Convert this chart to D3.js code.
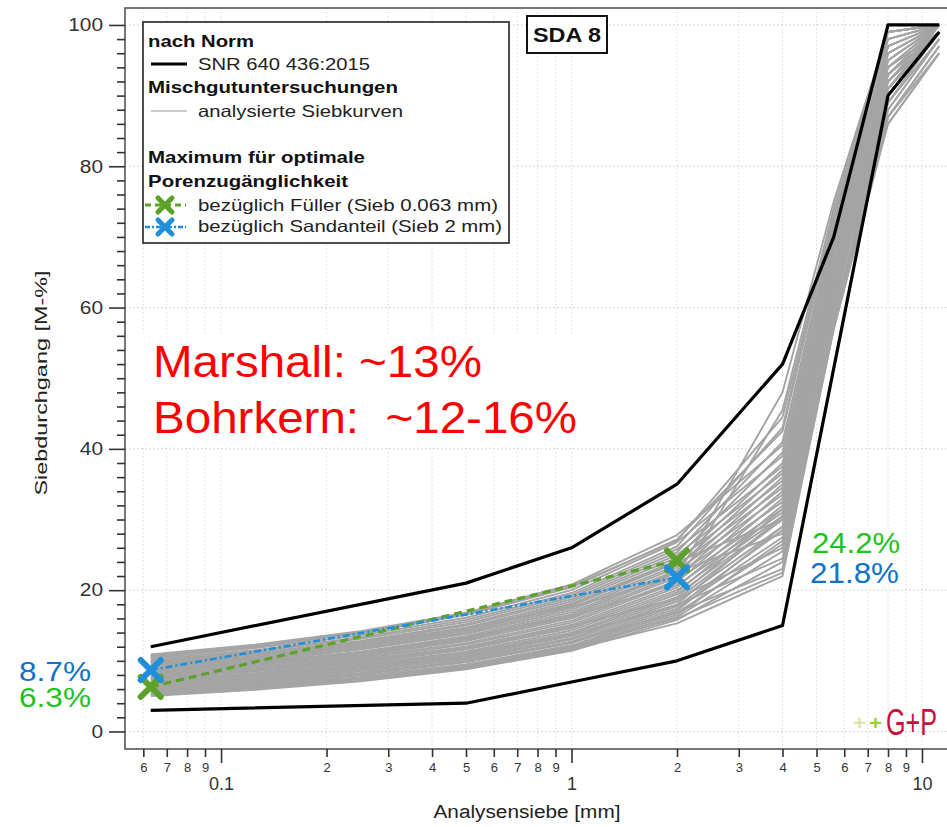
<!DOCTYPE html>
<html><head><meta charset="utf-8">
<script src="https://cdn.jsdelivr.net/npm/d3@7"></script>
<style>
body{margin:0;background:#fff}
text{font-family:"Liberation Sans",Arial,Helvetica,sans-serif}
</style>
</head><body>
<svg id="c" width="947" height="827"></svg>
<script>
// ---------------- DATA ----------------
const sieves = [0.063, 0.125, 0.25, 0.5, 1, 2, 4, 5.6, 8, 11.2];

// analysed grading curves (Siebdurchgang in M-% at each sieve)
const curves = [
  [10.9, 12.3, 14.2, 16.8, 20.8, 27.8, 40.5, 72, 99, 100],
  [10.6, 12.0, 13.9, 16.5, 20.4, 27.2, 42.5, 73, 98, 100],
  [10.4, 11.8, 13.6, 16.1, 20.0, 26.8, 39.0, 71, 97, 100],
  [10.2, 11.5, 13.3, 15.8, 19.6, 26.2, 43.0, 74, 99, 100],
  [10.0, 11.3, 13.1, 15.5, 19.3, 25.8, 37.5, 70, 96, 100],
  [9.8, 11.1, 12.8, 15.2, 19.0, 25.4, 41.0, 72, 98, 100],
  [9.6, 10.9, 12.6, 15.0, 18.7, 25.0, 36.5, 69, 96, 100],
  [9.5, 10.7, 12.4, 14.7, 18.4, 24.6, 39.5, 71, 97, 100],
  [9.3, 10.5, 12.2, 14.5, 18.1, 24.2, 35.5, 68, 95, 100],
  [9.1, 10.3, 12.0, 14.2, 17.8, 23.9, 38.0, 70, 97, 100],
  [9.0, 10.1, 11.8, 14.0, 17.5, 23.5, 34.5, 67, 95, 100],
  [8.8, 9.9, 11.6, 13.8, 17.2, 23.2, 37.0, 69, 96, 100],
  [8.6, 9.7, 11.3, 13.5, 16.9, 22.8, 33.5, 66, 94, 99],
  [8.5, 9.6, 11.1, 13.3, 16.6, 22.5, 36.0, 68, 96, 100],
  [8.3, 9.4, 10.9, 13.0, 16.3, 22.1, 32.5, 65, 93, 99],
  [8.1, 9.2, 10.7, 12.8, 16.0, 21.8, 35.0, 67, 95, 100],
  [8.0, 9.0, 10.5, 12.5, 15.7, 21.4, 31.5, 64, 93, 99],
  [7.8, 8.8, 10.3, 12.3, 15.4, 21.1, 34.0, 66, 94, 100],
  [7.6, 8.6, 10.1, 12.0, 15.1, 20.7, 31.0, 64, 92, 99],
  [7.5, 8.5, 9.9, 11.8, 14.8, 20.4, 33.0, 65, 94, 100],
  [7.3, 8.3, 9.7, 11.6, 14.6, 20.0, 30.5, 63, 92, 99],
  [7.1, 8.1, 9.5, 11.3, 14.3, 19.7, 32.0, 65, 93, 100],
  [7.0, 7.9, 9.3, 11.1, 14.0, 19.4, 30.0, 62, 91, 99],
  [6.8, 7.8, 9.1, 10.9, 13.8, 19.0, 31.5, 64, 93, 100],
  [6.6, 7.6, 8.9, 10.6, 13.5, 18.7, 30.0, 62, 91, 99],
  [6.5, 7.4, 8.7, 10.4, 13.2, 18.4, 29.0, 63, 92, 100],
  [6.3, 7.2, 8.5, 10.2, 13.0, 18.0, 30.5, 61, 90, 99],
  [6.1, 7.0, 8.3, 10.0, 12.7, 17.7, 28.5, 62, 91, 100],
  [6.0, 6.9, 8.1, 9.8, 12.5, 17.4, 27.5, 60, 90, 99],
  [5.8, 6.7, 7.9, 9.5, 12.2, 17.1, 29.0, 61, 89, 98],
  [5.6, 6.5, 7.7, 9.3, 12.0, 16.8, 26.5, 60, 90, 99],
  [5.4, 6.3, 7.5, 9.1, 11.8, 16.5, 27.0, 59, 88, 98],
  [5.2, 6.1, 7.3, 8.9, 11.6, 16.2, 25.5, 58, 89, 99],
  [5.0, 5.9, 7.1, 8.8, 11.4, 15.8, 24.0, 57, 87, 97],
  [9.9, 11.0, 12.5, 14.6, 17.6, 22.0, 48.0, 75, 99, 100],
  [8.7, 9.8, 11.2, 13.2, 16.2, 21.0, 45.5, 74, 99, 100],
  [7.7, 8.7, 10.0, 11.9, 14.9, 18.8, 26.0, 59, 88, 98],
  [6.9, 7.8, 9.0, 10.7, 13.6, 17.9, 24.5, 58, 87, 97],
  [6.2, 7.1, 8.2, 9.9, 12.6, 16.9, 23.0, 57, 86, 96],
  [5.7, 6.5, 7.6, 9.2, 11.9, 16.0, 22.5, 58, 90, 100],
  [5.3, 6.2, 7.3, 8.9, 11.6, 15.3, 22.0, 57, 87, 96],
  [9.2, 10.4, 12.0, 14.3, 17.9, 24.0, 30.0, 62, 86, 96],
  [8.4, 9.5, 11.0, 13.1, 16.5, 22.6, 28.0, 60, 91, 99],
  [10.7, 12.1, 14.0, 16.6, 20.6, 27.0, 44.5, 73, 98, 100]
];

// SNR 640 436:2015 limits
const normUpperSieves = [0.063, 0.5, 1, 2, 4, 5.6, 8, 11.2];
const normUpperValues = [12, 21, 26, 35, 52, 70, 100, 100];
const normLowerSieves = [0.063, 0.5, 1, 2, 4, 8, 11.2];
const normLowerValues = [3, 4, 7, 10, 15, 90, 99];

// maxima for optimal pore accessibility
const maxSieves = [0.063, 2];
const fullerValues = [6.3, 24.2];     // bezüglich Füller
const sandValues = [8.7, 21.8];       // bezüglich Sandanteil

const yMajorTicks = [0, 20, 40, 60, 80, 100];
const xMajorTicks = [0.1, 1, 10];
const xMinorTicks = [0.06, 0.07, 0.08, 0.09, 0.2, 0.3, 0.4, 0.5, 0.6, 0.7, 0.8, 0.9,
                     2, 3, 4, 5, 6, 7, 8, 9];

// ---------------- CHART ----------------
const svg = d3.select("#c");
const L = 125, R = 950, T = 8, B = 749;
const x = d3.scaleLog().domain([0.0532, 12.02]).range([L, R]);
const y = d3.scaleLinear().domain([-2.48, 102.4]).range([B, T]);

const GREEN = "#5ca22a", BLUE = "#1f8fda";

function label(parent, str, px, py, size, width, o = {}) {
  const t = parent.append("text").attr("x", px).attr("y", py)
    .attr("font-size", size).text(str);
  if (width) t.attr("textLength", width).attr("lengthAdjust", "spacingAndGlyphs");
  if (o.weight) t.attr("font-weight", o.weight);
  t.attr("fill", o.fill || "#111");
  if (o.anchor) t.attr("text-anchor", o.anchor);
  if (o.pre) t.style("white-space", "pre");
  return t;
}
function cross(parent, cx, cy, r, color, w) {
  parent.append("path")
    .attr("d", `M${cx - r},${cy - r}L${cx + r},${cy + r}M${cx - r},${cy + r}L${cx + r},${cy - r}`)
    .attr("stroke", color).attr("stroke-width", w).attr("stroke-linecap", "round")
    .attr("fill", "none");
}

svg.append("rect").attr("width", 947).attr("height", 827).attr("fill", "#fff");

// grid
const grid = svg.append("g");
grid.selectAll(".gx").data(xMajorTicks.concat(xMinorTicks)).join("line")
  .attr("x1", d => x(d)).attr("x2", d => x(d)).attr("y1", T).attr("y2", B)
  .attr("stroke", "#dcdcdc").attr("stroke-width", 1).attr("stroke-dasharray", "1.5,2.5");
grid.selectAll(".gy").data(yMajorTicks).join("line")
  .attr("x1", L).attr("x2", R).attr("y1", d => y(d)).attr("y2", d => y(d))
  .attr("stroke", "#c8c8c8").attr("stroke-width", 1).attr("stroke-dasharray", "1.5,2.5");

// white boxes behind annotation text
svg.append("rect").attr("x", 128).attr("y", 333).attr("width", 472).attr("height", 112).attr("fill", "#fff");
svg.append("rect").attr("x", 806).attr("y", 526).attr("width", 98).attr("height", 61).attr("fill", "#fff");

// curves
const line = d3.line().x(d => x(d[0])).y(d => y(d[1]));
svg.append("g").selectAll("path").data(curves).join("path")
  .attr("d", c => line(c.map((v, i) => [sieves[i], v])))
  .attr("fill", "none").attr("stroke", "#a4a4a4").attr("stroke-width", 1.9)
  .attr("stroke-linejoin", "round");

// norm limits
const upper = normUpperSieves.map((s, i) => [s, normUpperValues[i]]);
const lower = normLowerSieves.map((s, i) => [s, normLowerValues[i]]);
[upper, lower].forEach(p => svg.append("path").attr("d", line(p))
  .attr("fill", "none").attr("stroke", "#000").attr("stroke-width", 3.2)
  .attr("stroke-linejoin", "round"));

// maxima lines
const fuller = maxSieves.map((s, i) => [s, fullerValues[i]]);
const sand = maxSieves.map((s, i) => [s, sandValues[i]]);
svg.append("path").attr("d", line(fuller)).attr("fill", "none")
  .attr("stroke", GREEN).attr("stroke-width", 3.2).attr("stroke-dasharray", "8,5");
svg.append("path").attr("d", line(sand)).attr("fill", "none")
  .attr("stroke", BLUE).attr("stroke-width", 2.6).attr("stroke-dasharray", "7,3,2,3");
fuller.forEach(d => cross(svg, x(d[0]), y(d[1]), 10, GREEN, 6));
sand.forEach(d => cross(svg, x(d[0]), y(d[1]), 10, BLUE, 6));

// frame
svg.append("rect").attr("x", L).attr("y", T).attr("width", R - L).attr("height", B - T)
  .attr("fill", "none").attr("stroke", "#555").attr("stroke-width", 1.6);

// y axis
const yAxMinor = d3.axisLeft(y).tickValues(d3.range(0, 101, 2).filter(v => v % 20 !== 0))
  .tickSize(8).tickFormat("").tickSizeOuter(0);
const yAxMajor = d3.axisLeft(y).tickValues(yMajorTicks).tickSize(16).tickPadding(6).tickSizeOuter(0);
const gyMin = svg.append("g").attr("transform", `translate(${L},0)`).call(yAxMinor);
const gyMaj = svg.append("g").attr("transform", `translate(${L},0)`).call(yAxMajor);
[gyMin, gyMaj].forEach(g => {
  g.select(".domain").remove();
  g.selectAll("line").attr("stroke", "#333").attr("stroke-width", 1.6);
});
gyMaj.selectAll("text").attr("font-size", 18).attr("fill", "#333")
  .attr("font-family", "Liberation Sans, Arial, sans-serif")
  .attr("textLength", d => String(d).length * 11.6).attr("lengthAdjust", "spacingAndGlyphs");

// x axis
const fmtMinor = d => String(Math.round(d / Math.pow(10, Math.floor(Math.log10(d) + 1e-9))));
const xAxMinor = d3.axisBottom(x).tickValues(xMinorTicks).tickSize(8).tickPadding(6)
  .tickFormat(fmtMinor).tickSizeOuter(0);
const xAxMajor = d3.axisBottom(x).tickValues(xMajorTicks).tickSize(14).tickPadding(14)
  .tickFormat(d => String(d)).tickSizeOuter(0);
const gxMin = svg.append("g").attr("transform", `translate(0,${B})`).call(xAxMinor);
const gxMaj = svg.append("g").attr("transform", `translate(0,${B})`).call(xAxMajor);
[gxMin, gxMaj].forEach(g => {
  g.select(".domain").remove();
  g.selectAll("line").attr("stroke", "#333").attr("stroke-width", 1.6);
  g.selectAll("text").attr("fill", "#333").attr("font-family", "Liberation Sans, Arial, sans-serif");
});
gxMin.selectAll("text").attr("font-size", 13);
gxMaj.selectAll("text").attr("font-size", 18);

// axis titles
label(svg, "Analysensiebe [mm]", 527, 818, 18, 187, { anchor: "middle", fill: "#222" });
label(svg, "Siebdurchgang [M-%]", 0, 0, 17, 225, { anchor: "middle", fill: "#222" })
  .attr("transform", "translate(47,383) rotate(-90)");

// legend
const lg = svg.append("g");
lg.append("rect").attr("x", 143).attr("y", 22).attr("width", 366).attr("height", 221)
  .attr("fill", "#fff").attr("stroke", "#222").attr("stroke-width", 1.6);
label(lg, "nach Norm", 148, 47, 16.5, 106, { weight: "bold" });
lg.append("line").attr("x1", 151).attr("x2", 187).attr("y1", 64).attr("y2", 64)
  .attr("stroke", "#000").attr("stroke-width", 3);
label(lg, "SNR 640 436:2015", 198, 69.5, 16.5, 172, { fill: "#222" });
label(lg, "Mischgutuntersuchungen", 148, 93, 16.5, 250, { weight: "bold" });
lg.append("line").attr("x1", 151).attr("x2", 187).attr("y1", 111).attr("y2", 111)
  .attr("stroke", "#b8b8b8").attr("stroke-width", 1.6);
label(lg, "analysierte Siebkurven", 198, 117, 16.5, 205, { fill: "#222" });
label(lg, "Maximum für optimale", 148, 163, 16.5, 217, { weight: "bold" });
label(lg, "Porenzugänglichkeit", 148, 187, 16.5, 200, { weight: "bold" });
lg.append("line").attr("x1", 145).attr("x2", 186).attr("y1", 205).attr("y2", 205)
  .attr("stroke", GREEN).attr("stroke-width", 3).attr("stroke-dasharray", "6,4");
cross(lg, 165, 205, 7, GREEN, 5);
label(lg, "bezüglich Füller (Sieb 0.063 mm)", 198, 211, 16.5, 300, { fill: "#222" });
lg.append("line").attr("x1", 145).attr("x2", 186).attr("y1", 227).attr("y2", 227)
  .attr("stroke", BLUE).attr("stroke-width", 2.4).attr("stroke-dasharray", "5,2,2,2");
cross(lg, 165, 227, 7, BLUE, 5);
label(lg, "bezüglich Sandanteil (Sieb 2 mm)", 198, 232, 16.5, 304, { fill: "#222" });

// SDA 8 box
svg.append("rect").attr("x", 527).attr("y", 16).attr("width", 80).attr("height", 37)
  .attr("fill", "#fff").attr("stroke", "#111").attr("stroke-width", 2);
label(svg, "SDA 8", 567, 42, 20, 68, { weight: "bold", anchor: "middle" });

// red annotation
label(svg, "Marshall: ~13%", 153, 377, 45, 329, { fill: "#ff0000" });
label(svg, "Bohrkern:  ~12-16%", 153, 433, 45, 424, { fill: "#ff0000", pre: true });

// value labels
const GTXT = "#1ec21e", BTXT = "#1172c6";
label(svg, "8.7%", 19, 681, 28, 72, { fill: BTXT });
label(svg, "6.3%", 19, 707, 28, 72, { fill: GTXT });
label(svg, "24.2%", 812, 553, 30, 88, { fill: GTXT });
label(svg, "21.8%", 810, 583, 30, 89, { fill: BTXT });

// logo
label(svg, "+", 853, 730, 20, 13, { fill: "#e2e2a6", weight: "bold" });
label(svg, "+", 869, 730, 20, 13, { fill: "#9ad430", weight: "bold" });
label(svg, "G+P", 886, 735, 36, 51, { fill: "#c8103c" });
</script>
</body></html>
